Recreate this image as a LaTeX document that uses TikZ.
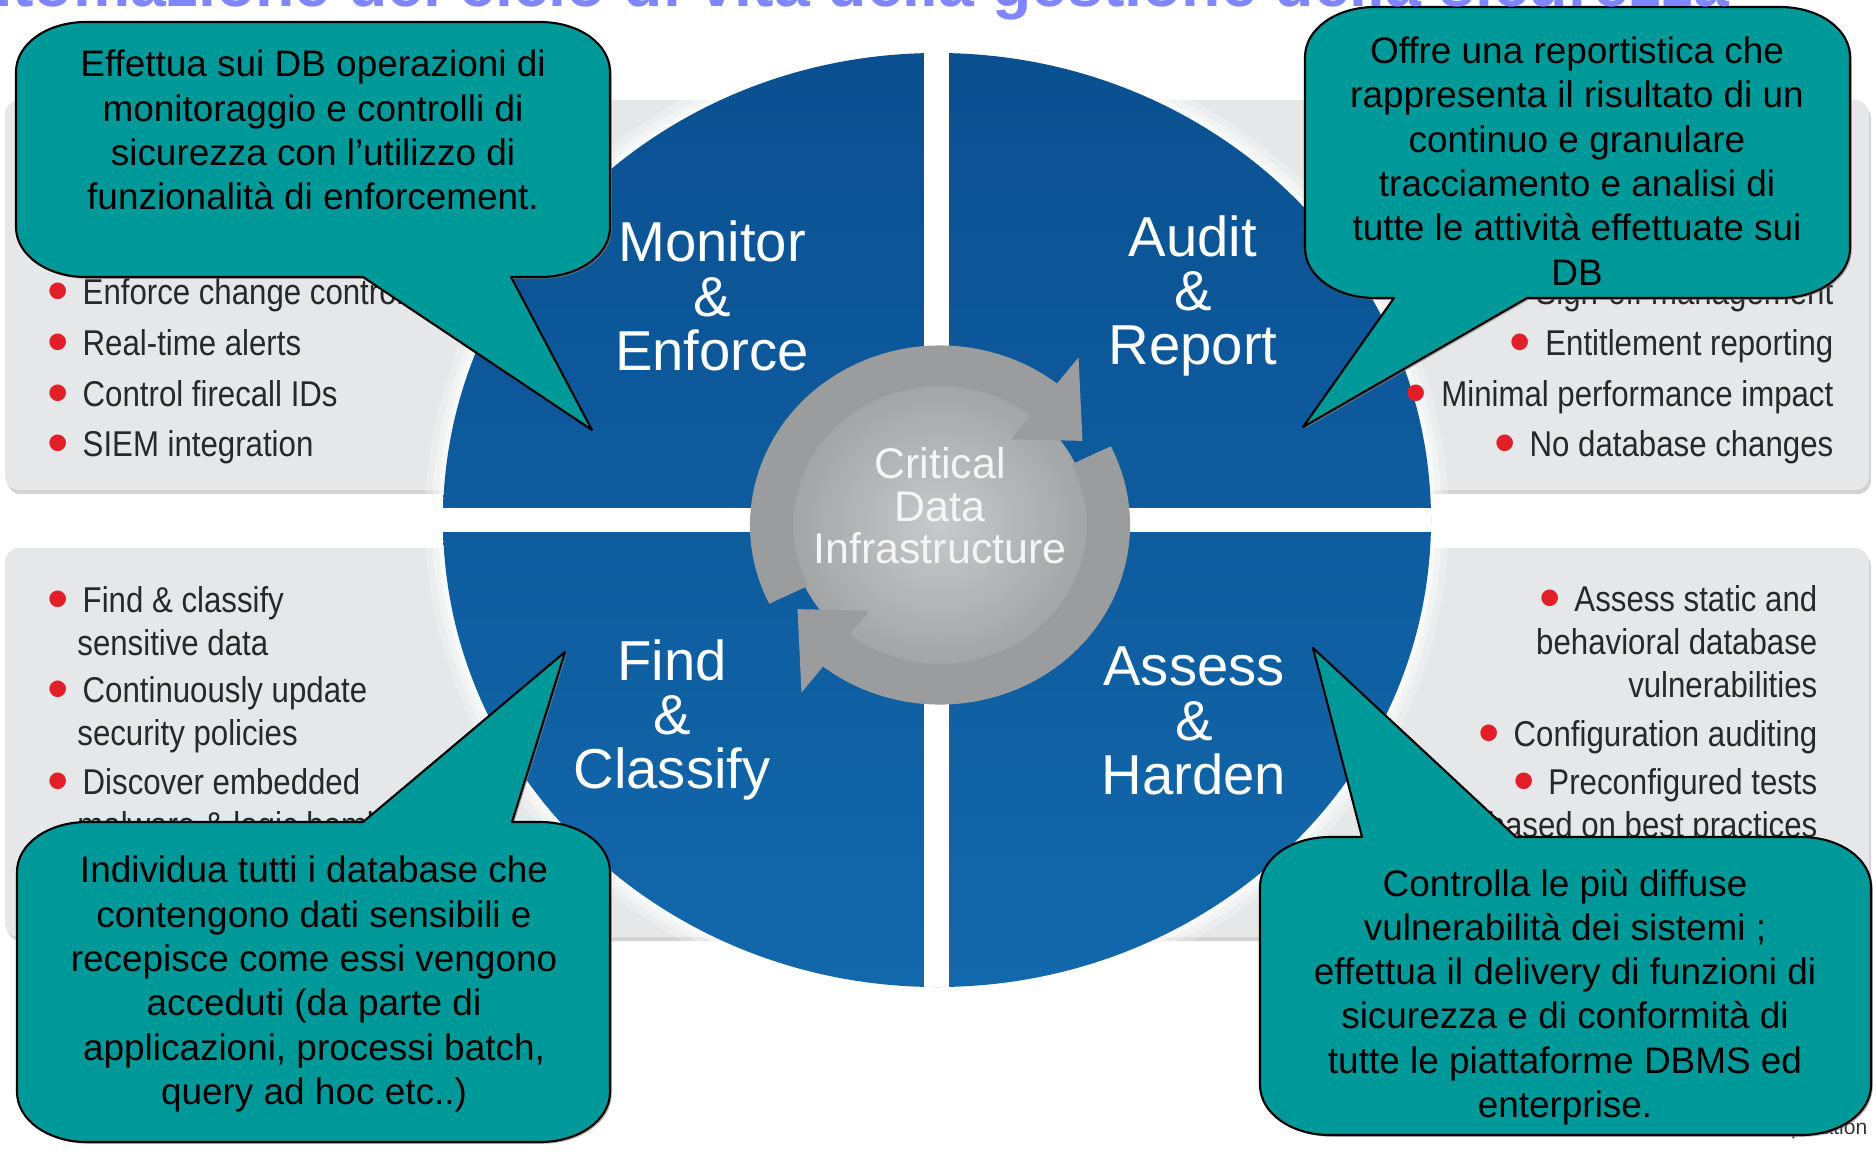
\documentclass[tikz,border=0pt]{standalone}
\usepackage{fontspec}
\setmainfont{Liberation Sans}
\newfontfamily\listfont[FakeStretch=0.87]{Liberation Sans}
\usetikzlibrary{shadows}
\definecolor{panelgray}{RGB}{230,231,233}
\definecolor{calloutteal}{RGB}{0,153,153}
\definecolor{titleblue}{RGB}{128,134,255}
\definecolor{bulred}{RGB}{226,30,40}
\definecolor{ringgray}{RGB}{155,156,158}
\definecolor{disclight}{RGB}{200,201,203}
\definecolor{discdark}{RGB}{163,164,166}
\definecolor{wheeltop}{RGB}{10,80,145}
\definecolor{wheelbot}{RGB}{18,104,172}
\definecolor{listtext}{RGB}{40,40,40}
\newcommand{\bul}{{\normalfont\color{bulred}\raisebox{-2pt}{\scalebox{1.7}{•}}}}
\begin{document}
\begin{tikzpicture}[x=0.01cm, y=-0.01cm, line join=round,
	panel/.style={fill=panelgray, rounded corners=4pt, drop shadow={shadow xshift=0.6pt, shadow yshift=-1.2pt, opacity=0.35}},
	bubble/.style={fill=calloutteal, draw=black, line width=0.6pt, drop shadow={shadow xshift=0.5pt, shadow yshift=-0.5pt, opacity=0.6}},
	note/.style={align=center, font=\fontsize{10.5}{12.6}\selectfont, inner sep=0pt},
	quad/.style={align=center, text=white, font=\fontsize{16}{15.4}\selectfont, inner sep=0pt},
	item/.style={text=listtext, font=\listfont\fontsize{10.2}{12.2}\selectfont, inner sep=0pt},
	itemL/.style={item, anchor=west, align=left},
	itemR/.style={item, anchor=east, align=right}]
	\useasboundingbox (0,0) rectangle (1876,1151);
	\path[panel] (5,100) rectangle (1869,490);
	\path[panel] (5,548) rectangle (1869,937);
	\foreach \rx/\ry/\op in {512/485/0.25,505/478/0.35,499/472/0.5}
		\fill[white, opacity=\op] (937,520) ellipse [x radius=\rx, y radius=\ry];
	\shade[top color=wheeltop, bottom color=wheelbot] (937,520) ellipse [x radius=494, y radius=467];
	\begin{scope}
		\clip (937,520) ellipse [x radius=494, y radius=467];
		\fill[white] (924,0) rectangle (949,1100);
		\fill[white] (400,508) rectangle (1500,532);
	\end{scope}
	\begin{scope}[shift={(940,525)}, x=0.01cm, y=0.00945cm]
		\shade[inner color=disclight, outer color=discdark] (0,0) circle [radius=150];
		\fill[ringgray] (206:190) arc[start angle=206, end angle=52, radius=190] -- (52:225) -- (32:168) -- (52:115) -- (52:147) arc[start angle=52, end angle=206, radius=147] -- cycle;
		\fill[ringgray] (26:190) arc[start angle=26, end angle=-128, radius=190] -- (232:225) -- (212:168) -- (232:115) -- (232:147) arc[start angle=232, end angle=386, radius=147] -- cycle;
	\end{scope}
	\node[itemL] (mon1) at (82,295) {\llap{\bul\hspace{4pt}}Enforce change control};
	\node[itemL] (mon2) at (82,346) {\llap{\bul\hspace{4pt}}Real-time alerts};
	\node[itemL] (mon3) at (82,397) {\llap{\bul\hspace{4pt}}Control firecall IDs};
	\node[itemL] (mon4) at (82,447) {\llap{\bul\hspace{4pt}}SIEM integration};
	\node[itemR] (aud1) at (1834,295) {\bul\hspace{4pt}Sign-off management};
	\node[itemR] (aud2) at (1834,346) {\bul\hspace{4pt}Entitlement reporting};
	\node[itemR] (aud3) at (1834,397) {\bul\hspace{4pt}Minimal performance impact};
	\node[itemR] (aud4) at (1834,447) {\bul\hspace{4pt}No database changes};
	\node[itemL] (fin1) at (82,621) {\llap{\bul\hspace{4pt}}Find \& classify\\\hspace*{-1.5pt}sensitive data};
	\node[itemL] (fin2) at (82,715) {\llap{\bul\hspace{4pt}}Continuously update\\\hspace*{-1.5pt}security policies};
	\node[itemL] (fin3) at (82,807) {\llap{\bul\hspace{4pt}}Discover embedded\\\hspace*{-1.5pt}malware \& logic bombs};
	\node[itemR] (ass1) at (1818,642) {\bul\hspace{4pt}Assess static and\\behavioral database\\vulnerabilities};
	\node[itemR] (ass2) at (1818,737) {\bul\hspace{4pt}Configuration auditing};
	\node[itemR] (ass3) at (1818,807) {\bul\hspace{4pt}Preconfigured tests\\based on best practices};
	\node[align=center, text=white!92!gray, font=\fontsize{12.2}{12.1}\selectfont, inner sep=0pt] (core) at (940,506) {Critical\\Data\\Infrastructure};
	\node[quad] (monitor) at (712,296) {Monitor\\\&\\Enforce};
	\node[quad] (audit) at (1193,296) {Audit\\\&\\Report};
	\node[quad] (find) at (672,720) {Find\\\&\\Classify};
	\node[quad] (assess) at (1194,721) {Assess\\\&\\Harden};
	\node[anchor=base east, font=\fontsize{6}{7}\selectfont, text=black!80, inner sep=0pt] (corp) at (1868,1134) {IBM Corporation};
	\path[bubble] (86,22) -- (540,22) .. controls (579,22) and (610,44) .. (610,72) -- (610,227) .. controls (610,255) and (579,277) .. (540,277) -- (511,277) -- (592,430) -- (363,277) -- (86,277) .. controls (47,277) and (16,255) .. (16,227) -- (16,72) .. controls (16,44) and (47,22) .. cycle;
	\path[bubble] (1375,7) -- (1780,7) .. controls (1819,7) and (1850,29) .. (1850,57) -- (1850,248) .. controls (1850,276) and (1819,298) .. (1780,298) -- (1527,298) -- (1303,427) -- (1394,298) -- (1375,298) .. controls (1336,298) and (1305,276) .. (1305,248) -- (1305,57) .. controls (1305,29) and (1336,7) .. cycle;
	\path[bubble] (87,822) -- (363,822) -- (565,652) -- (512,822) -- (540,822) .. controls (579,822) and (610,844) .. (610,872) -- (610,1092) .. controls (610,1120) and (579,1142) .. (540,1142) -- (87,1142) .. controls (48,1142) and (17,1120) .. (17,1092) -- (17,872) .. controls (17,844) and (48,822) .. cycle;
	\path[bubble] (1330,837) -- (1362,837) -- (1313,648) -- (1516,837) -- (1801,837) .. controls (1840,837) and (1871,859) .. (1871,887) -- (1871,1085) .. controls (1871,1113) and (1840,1135) .. (1801,1135) -- (1330,1135) .. controls (1291,1135) and (1260,1113) .. (1260,1085) -- (1260,887) .. controls (1260,859) and (1291,837) .. cycle;
	\node[note] (tlnote) at (313,130) {Effettua sui DB operazioni di\\monitoraggio e controlli di\\sicurezza con l’utilizzo di\\funzionalità di enforcement.};
	\node[note] (trnote) at (1577,161) {Offre una reportistica che\\rappresenta il risultato di un\\continuo e granulare\\tracciamento e analisi di\\tutte le attività effettuate sui\\DB};
	\node[note] (blnote) at (314,984) {Individua tutti i database che\\contengono dati sensibili e\\recepisce come essi vengono\\acceduti (da parte di\\applicazioni, processi batch,\\query ad hoc etc..)};
	\node[note] (brnote) at (1565,997) {Controlla le più diffuse\\vulnerabilità dei sistemi ;\\effettua il delivery di funzioni di\\sicurezza e di conformità di\\tutte le piattaforme DBMS ed\\enterprise.};
	\node[anchor=base west, text=titleblue, font=\bfseries\fontsize{18.3}{20}\selectfont, inner sep=0pt] (title) at (-74,6) {Automazione del ciclo di vita della gestione della sicurezza};
\end{tikzpicture}
\end{document}
